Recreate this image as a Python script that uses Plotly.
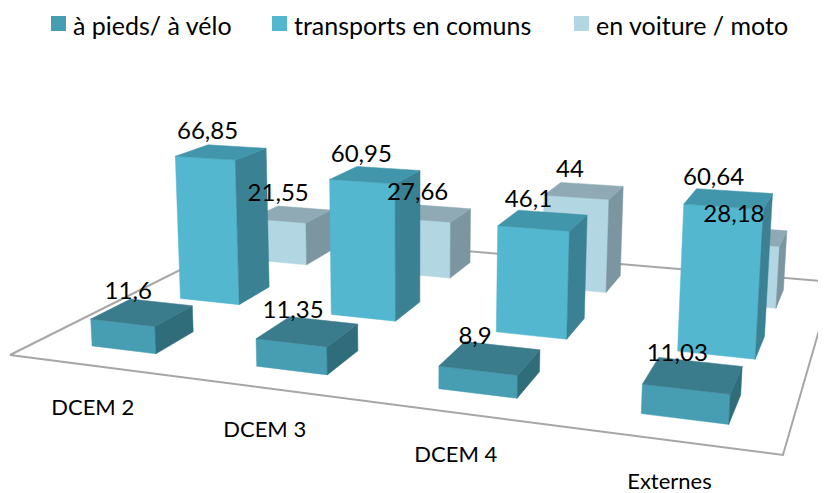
import plotly.graph_objects as go

categories = ["DCEM 2", "DCEM 3", "DCEM 4", "Externes"]
series_names = ["à pieds/ à vélo", "transports en comuns", "en voiture / moto"]
a_pieds = [11.6, 11.35, 8.9, 11.03]
transports = [66.85, 60.95, 46.1, 60.64]
voiture = [21.55, 27.66, 44, 28.18]
series_values = [a_pieds, transports, voiture]

# colours per series: front, side, top
face_colors = [
    ("#479EB3", "#2E6D79", "#3A7B8C"),
    ("#53B7D0", "#3A8193", "#4196AB"),
    ("#B3D6E3", "#7B95A1", "#8FAAB5"),
]
legend_colors = ["#479EB3", "#53B7D0", "#B3D6E3"]
legend_swatch_left = [51, 272, 574]

W, H = 826, 493
BODY = 8  # default page margin around the figure
# perspective projection of (u, v, value) on the page
PA, PB, PC = 620.2, 333.4, 10.0
PD, PE, PF = 11.2, -40.0, 355.0
PG, PH = -0.1951, 0.3519
VZX, VZY, VZ = 410.0, 6680.0, -0.000370
HALF_U, HALF_V = 0.05, 0.07
BAR_SHIFT_U = 0.008


def project(u, v, z=0.0):
    t = VZ * z
    w = PG * u + PH * v + 1 + t
    return (PA * u + PB * v + PC + VZX * t) / w, (PD * u + PE * v + PF + VZY * t) / w


def polygon(points):
    xy = [project(*p) for p in points] + [project(*points[0])]
    return [p[0] for p in xy] + [None], [p[1] for p in xy] + [None]


fig = go.Figure()

# floor
fx, fy = polygon([(0, 0), (1, 0), (1, 1), (0, 1)])
fig.add_trace(go.Scatter(x=fx, y=fy, mode="lines", line=dict(color="#A6A6A6", width=2),
                         showlegend=False, hoverinfo="skip"))

# bars, back series first
for j in (2, 1, 0):
    vc = (j + 0.5) / 3
    v0, v1 = vc - HALF_V, vc + HALF_V
    faces = ([[], []], [[], []], [[], []])
    for i, value in enumerate(series_values[j]):
        uc = (i + 0.5) / 4 + BAR_SHIFT_U
        u0, u1 = uc - HALF_U, uc + HALF_U
        polys = (
            [(u0, v0, 0), (u1, v0, 0), (u1, v0, value), (u0, v0, value)],
            [(u1, v0, 0), (u1, v1, 0), (u1, v1, value), (u1, v0, value)],
            [(u0, v0, value), (u1, v0, value), (u1, v1, value), (u0, v1, value)],
        )
        for k, poly in enumerate(polys):
            px, py = polygon(poly)
            faces[k][0].extend(px)
            faces[k][1].extend(py)
    for k, (px, py) in enumerate(faces):
        fig.add_trace(go.Scatter(x=px, y=py, mode="lines", fill="toself",
                                 fillcolor=face_colors[j][k],
                                 line=dict(color=face_colors[j][k], width=0.5),
                                 name=series_names[j], showlegend=False, hoverinfo="skip"))

# value labels
LABEL_DX, LABEL_DY = -9, -19
lx, ly, lt = [], [], []
for j in (2, 1, 0):
    vc = (j + 0.5) / 3
    for i, value in enumerate(series_values[j]):
        x, y = project((i + 0.5) / 4, vc, value)
        lx.append(x + LABEL_DX)
        ly.append(y + LABEL_DY)
        lt.append(f"{value:g}".replace(".", ","))
fig.add_trace(go.Scatter(x=lx, y=ly, text=lt, mode="text", textposition="middle center",
                         textfont=dict(family="Lato", size=24, color="#000000"),
                         cliponaxis=False, showlegend=False, hoverinfo="skip"))

# category labels
cx, cy = [], []
for i in range(len(categories)):
    x, y = project((i + 0.5) / 4, 0)
    cx.append(x + 3)
    cy.append(y + 44)
fig.add_trace(go.Scatter(x=cx, y=cy, text=categories, mode="text", textposition="middle center",
                         textfont=dict(family="Lato", size=22, color="#000000"),
                         cliponaxis=False, showlegend=False, hoverinfo="skip"))

# legend
shapes, annotations = [], []
for name, color, left in zip(series_names, legend_colors, legend_swatch_left):
    shapes.append(dict(type="rect", xref="x", yref="y", x0=left, x1=left + 15, y0=16, y1=31,
                       fillcolor=color, line=dict(width=0)))
    annotations.append(dict(xref="x", yref="y", x=left + 20, y=25, text=name, showarrow=False,
                            xanchor="left", yanchor="middle",
                            font=dict(family="Lato", size=25, color="#000000")))

fig.update_layout(
    width=W - BODY, height=H - BODY,
    margin=dict(l=0, r=0, t=0, b=0),
    paper_bgcolor="white", plot_bgcolor="white",
    showlegend=False,
    xaxis=dict(range=[BODY, W], visible=False, fixedrange=True),
    yaxis=dict(range=[H, BODY], visible=False, fixedrange=True),
    shapes=shapes, annotations=annotations,
)

fig.write_html("out.html", config=dict(displayModeBar=False))
